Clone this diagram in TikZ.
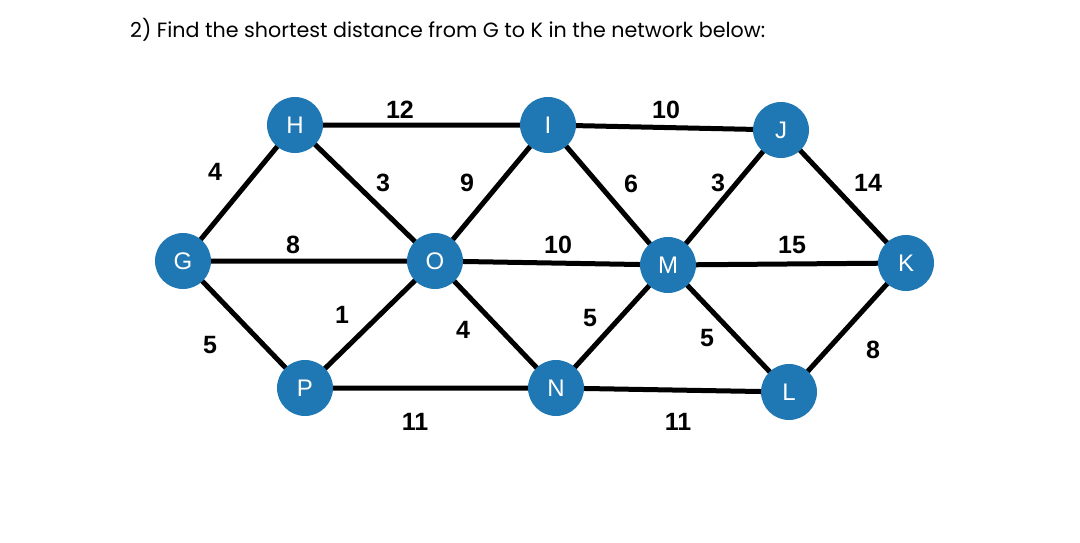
\documentclass[tikz,border=0pt]{standalone}
\usepackage{fontspec}
\setmainfont{Liberation Sans}
\newfontfamily\titlefont{Poppins}
\definecolor{nodeblue}{HTML}{1F78B4}
\begin{document}
\begin{tikzpicture}[x=1pt,y=-1pt,
  vtx/.style={circle,fill=nodeblue,minimum size=56pt,inner sep=0pt,text=white,font=\fontsize{24}{24}\selectfont},
  edge/.style={line width=5pt,black},
  wt/.style={font=\bfseries\fontsize{25}{25}\selectfont}]
\useasboundingbox (0,0) rectangle (1080,543);
\node[anchor=west,inner sep=0pt] (title) at (130,30) {\resizebox{635pt}{!}{\titlefont 2) Find the shortest distance from G to K in the network below:}};
\coordinate (cG) at (183,261);
\coordinate (cH) at (295,125);
\coordinate (cI) at (548,125);
\coordinate (cJ) at (781,130);
\coordinate (cK) at (906,263);
\coordinate (cO) at (435,261);
\coordinate (cM) at (668,265);
\coordinate (cP) at (305,388);
\coordinate (cN) at (556,388);
\coordinate (cL) at (789,392);
\draw[edge] (cG)--(cH) (cG)--(cO) (cG)--(cP) (cH)--(cI) (cH)--(cO) (cO)--(cI)
  (cO)--(cP) (cO)--(cM) (cO)--(cN) (cI)--(cJ) (cI)--(cM) (cM)--(cJ) (cJ)--(cK)
  (cM)--(cK) (cM)--(cN) (cM)--(cL) (cL)--(cK) (cP)--(cN) (cN)--(cL);
\foreach \n in {G,H,I,J,K,O,M,P,N,L}{\node[vtx] (\n) at (c\n) {\n};}
\node[wt] (w1) at (215,172) {4};
\node[wt] (w2) at (400,110) {12};
\node[wt] (w3) at (383,183) {3};
\node[wt] (w4) at (467,183) {9};
\node[wt] (w5) at (293,245) {8};
\node[wt] (w6) at (210,345) {5};
\node[wt] (w7) at (342,315) {1};
\node[wt] (w8) at (463,330) {4};
\node[wt] (w9) at (415,422) {11};
\node[wt] (w10) at (666,110) {10};
\node[wt] (w11) at (631,184) {6};
\node[wt] (w12) at (718,183) {3};
\node[wt] (w13) at (868,183) {14};
\node[wt] (w14) at (558,245) {10};
\node[wt] (w15) at (792,245) {15};
\node[wt] (w16) at (590,318) {5};
\node[wt] (w17) at (707,338) {5};
\node[wt] (w18) at (873,350) {8};
\node[wt] (w19) at (678,422) {11};
\end{tikzpicture}
\end{document}
